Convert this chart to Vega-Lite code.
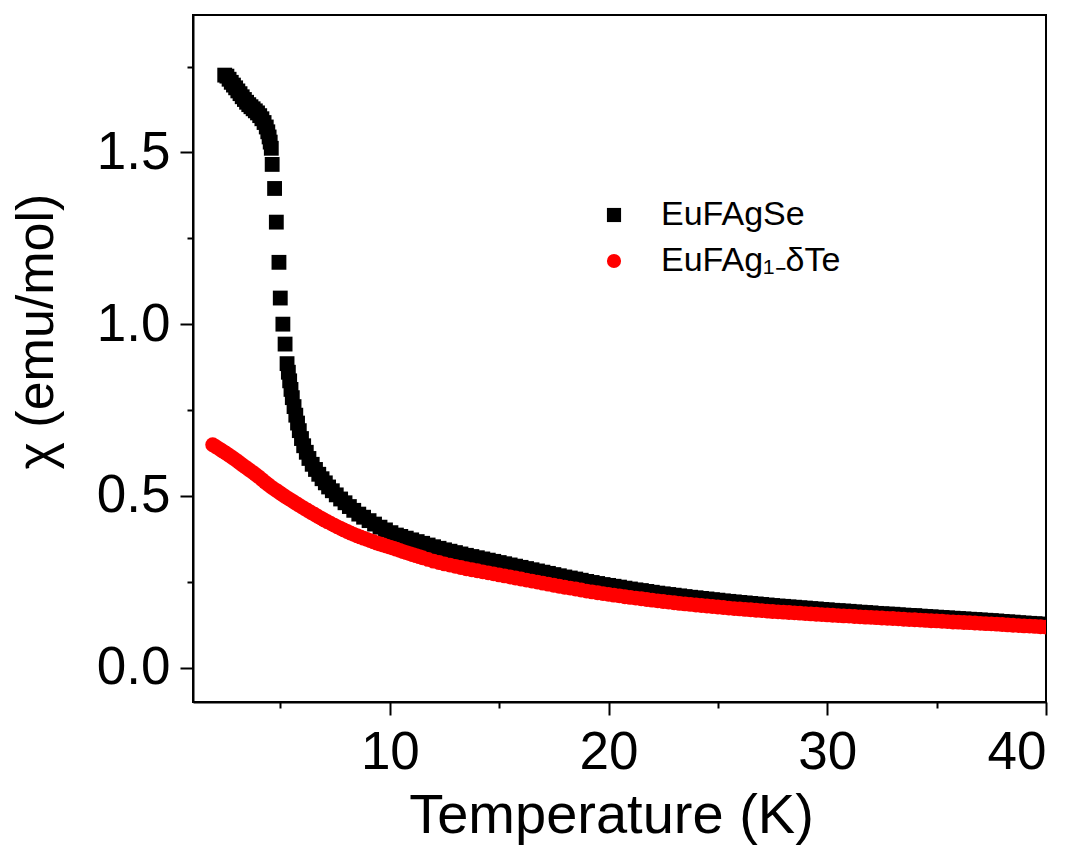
{
  "$schema": "https://vega.github.io/schema/vega-lite/v6.json",
  "width": 853,
  "height": 687,
  "autosize": {"type": "none"},
  "padding": {"left": 193, "top": 15, "right": 35, "bottom": 150},
  "background": "white",
  "config": {
    "view": {"stroke": "black", "strokeWidth": 2},
    "font": "Liberation Sans",
    "axis": {
      "domainColor": "black", "domainWidth": 2, "tickColor": "black", "tickWidth": 2,
      "grid": false, "labelColor": "black", "titleColor": "black",
      "labelFont": "Liberation Sans", "titleFont": "Liberation Sans",
      "labelFontSize": 53, "titleFontSize": 55, "titleFontWeight": "normal"
    }
  },
  "layer": [
    {
      "data": {"values": [
        {"s":"Se","T":2.45,"chi":1.725},{"s":"Se","T":2.55,"chi":1.722},{"s":"Se","T":2.65,"chi":1.713},{"s":"Se","T":2.75,"chi":1.704},
        {"s":"Se","T":2.85,"chi":1.696},{"s":"Se","T":2.95,"chi":1.688},{"s":"Se","T":3.05,"chi":1.679},{"s":"Se","T":3.15,"chi":1.671},
        {"s":"Se","T":3.25,"chi":1.662},{"s":"Se","T":3.35,"chi":1.654},{"s":"Se","T":3.45,"chi":1.646},{"s":"Se","T":3.55,"chi":1.639},
        {"s":"Se","T":3.65,"chi":1.633},{"s":"Se","T":3.75,"chi":1.627},{"s":"Se","T":3.85,"chi":1.621},{"s":"Se","T":3.95,"chi":1.615},
        {"s":"Se","T":4.05,"chi":1.607},{"s":"Se","T":4.15,"chi":1.598},{"s":"Se","T":4.25,"chi":1.587},{"s":"Se","T":4.35,"chi":1.574},
        {"s":"Se","T":4.42,"chi":1.560},{"s":"Se","T":4.48,"chi":1.545},{"s":"Se","T":4.53,"chi":1.530},{"s":"Se","T":4.58,"chi":1.512},
        {"s":"Se","T":4.62,"chi":1.465},{"s":"Se","T":4.73,"chi":1.395},{"s":"Se","T":4.81,"chi":1.297},{"s":"Se","T":4.93,"chi":1.180},
        {"s":"Se","T":4.99,"chi":1.076},{"s":"Se","T":5.11,"chi":1.000},{"s":"Se","T":5.21,"chi":0.942},
        {"s":"Se","T":5.30,"chi":0.885},{"s":"Se","T":5.36,"chi":0.860},{"s":"Se","T":5.42,"chi":0.835},{"s":"Se","T":5.48,"chi":0.810},
        {"s":"Se","T":5.54,"chi":0.786},{"s":"Se","T":5.62,"chi":0.760},{"s":"Se","T":5.70,"chi":0.735},{"s":"Se","T":5.78,"chi":0.712},
        {"s":"Se","T":5.86,"chi":0.690},{"s":"Se","T":5.96,"chi":0.667},{"s":"Se","T":6.06,"chi":0.646},{"s":"Se","T":6.18,"chi":0.627},
        {"s":"Se","T":6.30,"chi":0.609},{"s":"Se","T":6.45,"chi":0.592},{"s":"Se","T":6.60,"chi":0.577},{"s":"Se","T":6.75,"chi":0.563},
        {"s":"Se","T":6.90,"chi":0.550},{"s":"Se","T":7.05,"chi":0.538},{"s":"Se","T":7.20,"chi":0.526},{"s":"Se","T":7.37,"chi":0.515},
        {"s":"Se","T":7.55,"chi":0.503},{"s":"Se","T":7.75,"chi":0.491},{"s":"Se","T":7.95,"chi":0.480},{"s":"Se","T":8.15,"chi":0.469},
        {"s":"Se","T":8.35,"chi":0.458},{"s":"Se","T":8.58,"chi":0.447},{"s":"Se","T":8.80,"chi":0.438},{"s":"Se","T":9.05,"chi":0.428},
        {"s":"Se","T":9.30,"chi":0.418},{"s":"Se","T":9.55,"chi":0.409},{"s":"Se","T":9.80,"chi":0.401},{"s":"Se","T":10.05,"chi":0.393},
        {"s":"Se","T":10.30,"chi":0.386},
        {"s":"Se","T":10.5,"chi":0.382},{"s":"Se","T":10.75,"chi":0.377},{"s":"Se","T":11.0,"chi":0.372},{"s":"Se","T":11.25,"chi":0.367},
        {"s":"Se","T":11.5,"chi":0.362},{"s":"Se","T":11.75,"chi":0.357},{"s":"Se","T":12.0,"chi":0.352},{"s":"Se","T":12.25,"chi":0.3475},
        {"s":"Se","T":12.5,"chi":0.343},{"s":"Se","T":12.75,"chi":0.339},{"s":"Se","T":13.0,"chi":0.335},{"s":"Se","T":13.25,"chi":0.331},
        {"s":"Se","T":13.5,"chi":0.327},{"s":"Se","T":13.75,"chi":0.3235},{"s":"Se","T":14.0,"chi":0.320},{"s":"Se","T":14.25,"chi":0.3165},
        {"s":"Se","T":14.5,"chi":0.313},{"s":"Se","T":14.75,"chi":0.3095},{"s":"Se","T":15.0,"chi":0.306},{"s":"Se","T":15.25,"chi":0.3025},
        {"s":"Se","T":15.5,"chi":0.299},{"s":"Se","T":15.75,"chi":0.2955},{"s":"Se","T":16.0,"chi":0.292},{"s":"Se","T":16.25,"chi":0.2885},
        {"s":"Se","T":16.5,"chi":0.285},{"s":"Se","T":16.75,"chi":0.2815},{"s":"Se","T":17.0,"chi":0.278},{"s":"Se","T":17.25,"chi":0.2745},
        {"s":"Se","T":17.5,"chi":0.271},{"s":"Se","T":17.75,"chi":0.2675},{"s":"Se","T":18.0,"chi":0.264},{"s":"Se","T":18.25,"chi":0.261},
        {"s":"Se","T":18.5,"chi":0.258},{"s":"Se","T":18.75,"chi":0.2545},{"s":"Se","T":19.0,"chi":0.251},{"s":"Se","T":19.25,"chi":0.248},
        {"s":"Se","T":19.5,"chi":0.245},{"s":"Se","T":19.75,"chi":0.242},{"s":"Se","T":20.0,"chi":0.2395},{"s":"Se","T":20.25,"chi":0.237},
        {"s":"Se","T":20.5,"chi":0.2345},{"s":"Se","T":20.75,"chi":0.2315},{"s":"Se","T":21.0,"chi":0.229},{"s":"Se","T":21.25,"chi":0.2265},
        {"s":"Se","T":21.5,"chi":0.2245},{"s":"Se","T":21.75,"chi":0.222},{"s":"Se","T":22.0,"chi":0.2195},{"s":"Se","T":22.25,"chi":0.217},
        {"s":"Se","T":22.5,"chi":0.215},{"s":"Se","T":22.75,"chi":0.213},{"s":"Se","T":23.0,"chi":0.211},{"s":"Se","T":23.25,"chi":0.209},
        {"s":"Se","T":23.5,"chi":0.207},{"s":"Se","T":23.75,"chi":0.205},{"s":"Se","T":24.0,"chi":0.2035},{"s":"Se","T":24.25,"chi":0.2015},
        {"s":"Se","T":24.5,"chi":0.200},{"s":"Se","T":24.75,"chi":0.198},{"s":"Se","T":25.0,"chi":0.1965},{"s":"Se","T":25.25,"chi":0.1945},
        {"s":"Se","T":25.5,"chi":0.193},{"s":"Se","T":25.75,"chi":0.1915},{"s":"Se","T":26.0,"chi":0.190},{"s":"Se","T":26.25,"chi":0.1885},
        {"s":"Se","T":26.5,"chi":0.187},{"s":"Se","T":26.75,"chi":0.1855},{"s":"Se","T":27.0,"chi":0.184},{"s":"Se","T":27.25,"chi":0.1825},
        {"s":"Se","T":27.5,"chi":0.181},{"s":"Se","T":27.75,"chi":0.1795},{"s":"Se","T":28.0,"chi":0.1785},{"s":"Se","T":28.25,"chi":0.177},
        {"s":"Se","T":28.5,"chi":0.176},{"s":"Se","T":28.75,"chi":0.1745},{"s":"Se","T":29.0,"chi":0.1735},{"s":"Se","T":29.25,"chi":0.172},
        {"s":"Se","T":29.5,"chi":0.171},{"s":"Se","T":29.75,"chi":0.1695},{"s":"Se","T":30.0,"chi":0.1685},{"s":"Se","T":30.25,"chi":0.167},
        {"s":"Se","T":30.5,"chi":0.166},{"s":"Se","T":30.75,"chi":0.165},{"s":"Se","T":31.0,"chi":0.164},{"s":"Se","T":31.25,"chi":0.1625},
        {"s":"Se","T":31.5,"chi":0.1615},{"s":"Se","T":31.75,"chi":0.1605},{"s":"Se","T":32.0,"chi":0.1595},{"s":"Se","T":32.25,"chi":0.158},
        {"s":"Se","T":32.5,"chi":0.157},{"s":"Se","T":32.75,"chi":0.156},{"s":"Se","T":33.0,"chi":0.1555},{"s":"Se","T":33.25,"chi":0.154},
        {"s":"Se","T":33.5,"chi":0.153},{"s":"Se","T":33.75,"chi":0.152},{"s":"Se","T":34.0,"chi":0.1515},{"s":"Se","T":34.25,"chi":0.150},
        {"s":"Se","T":34.5,"chi":0.149},{"s":"Se","T":34.75,"chi":0.148},{"s":"Se","T":35.0,"chi":0.147},{"s":"Se","T":35.25,"chi":0.146},
        {"s":"Se","T":35.5,"chi":0.145},{"s":"Se","T":35.75,"chi":0.144},{"s":"Se","T":36.0,"chi":0.143},{"s":"Se","T":36.25,"chi":0.142},
        {"s":"Se","T":36.5,"chi":0.141},{"s":"Se","T":36.75,"chi":0.140},{"s":"Se","T":37.0,"chi":0.139},{"s":"Se","T":37.25,"chi":0.138},
        {"s":"Se","T":37.5,"chi":0.137},{"s":"Se","T":37.75,"chi":0.136},{"s":"Se","T":38.0,"chi":0.1345},{"s":"Se","T":38.25,"chi":0.1335},
        {"s":"Se","T":38.5,"chi":0.1325},{"s":"Se","T":38.75,"chi":0.131},{"s":"Se","T":39.0,"chi":0.130},{"s":"Se","T":39.25,"chi":0.129},
        {"s":"Se","T":39.5,"chi":0.128},{"s":"Se","T":39.75,"chi":0.127},{"s":"Se","T":40.0,"chi":0.126},{"s":"Se","T":40.25,"chi":0.125},
        {"s":"Se","T":40.5,"chi":0.124},
        {"s":"Te","T":1.9,"chi":0.649},{"s":"Te","T":2.05,"chi":0.643},{"s":"Te","T":2.2,"chi":0.637},{"s":"Te","T":2.35,"chi":0.631},
        {"s":"Te","T":2.5,"chi":0.625},{"s":"Te","T":2.65,"chi":0.6185},{"s":"Te","T":2.8,"chi":0.612},{"s":"Te","T":2.95,"chi":0.605},
        {"s":"Te","T":3.1,"chi":0.598},{"s":"Te","T":3.25,"chi":0.591},{"s":"Te","T":3.4,"chi":0.584},{"s":"Te","T":3.55,"chi":0.577},
        {"s":"Te","T":3.7,"chi":0.570},{"s":"Te","T":3.85,"chi":0.563},{"s":"Te","T":4.0,"chi":0.556},{"s":"Te","T":4.15,"chi":0.548},
        {"s":"Te","T":4.3,"chi":0.540},{"s":"Te","T":4.45,"chi":0.5325},{"s":"Te","T":4.6,"chi":0.525},{"s":"Te","T":4.75,"chi":0.5185},
        {"s":"Te","T":4.9,"chi":0.512},{"s":"Te","T":5.05,"chi":0.5055},{"s":"Te","T":5.2,"chi":0.499},{"s":"Te","T":5.35,"chi":0.493},
        {"s":"Te","T":5.5,"chi":0.487},{"s":"Te","T":5.65,"chi":0.481},{"s":"Te","T":5.8,"chi":0.475},{"s":"Te","T":5.95,"chi":0.469},
        {"s":"Te","T":6.1,"chi":0.463},{"s":"Te","T":6.25,"chi":0.4575},{"s":"Te","T":6.4,"chi":0.452},{"s":"Te","T":6.55,"chi":0.4465},
        {"s":"Te","T":6.7,"chi":0.441},{"s":"Te","T":6.85,"chi":0.4355},{"s":"Te","T":7.0,"chi":0.430},{"s":"Te","T":7.15,"chi":0.425},
        {"s":"Te","T":7.3,"chi":0.420},{"s":"Te","T":7.45,"chi":0.415},{"s":"Te","T":7.6,"chi":0.410},{"s":"Te","T":7.75,"chi":0.4055},
        {"s":"Te","T":7.9,"chi":0.401},{"s":"Te","T":8.05,"chi":0.3965},{"s":"Te","T":8.2,"chi":0.392},{"s":"Te","T":8.35,"chi":0.388},
        {"s":"Te","T":8.5,"chi":0.384},{"s":"Te","T":8.65,"chi":0.3805},{"s":"Te","T":8.8,"chi":0.377},{"s":"Te","T":8.95,"chi":0.3735},
        {"s":"Te","T":9.1,"chi":0.370},{"s":"Te","T":9.25,"chi":0.3665},{"s":"Te","T":9.4,"chi":0.363},{"s":"Te","T":9.55,"chi":0.360},
        {"s":"Te","T":9.7,"chi":0.357},{"s":"Te","T":9.85,"chi":0.354},{"s":"Te","T":10.0,"chi":0.351},{"s":"Te","T":10.15,"chi":0.348},
        {"s":"Te","T":10.3,"chi":0.345},{"s":"Te","T":10.45,"chi":0.3415},{"s":"Te","T":10.6,"chi":0.338},{"s":"Te","T":10.75,"chi":0.335},
        {"s":"Te","T":10.9,"chi":0.332},{"s":"Te","T":11.05,"chi":0.329},{"s":"Te","T":11.2,"chi":0.326},{"s":"Te","T":11.35,"chi":0.323},
        {"s":"Te","T":11.5,"chi":0.320},{"s":"Te","T":11.75,"chi":0.315},
        {"s":"Te","T":12.0,"chi":0.310},{"s":"Te","T":12.25,"chi":0.306},{"s":"Te","T":12.5,"chi":0.302},{"s":"Te","T":12.75,"chi":0.2985},
        {"s":"Te","T":13.0,"chi":0.295},{"s":"Te","T":13.25,"chi":0.2915},{"s":"Te","T":13.5,"chi":0.288},{"s":"Te","T":13.75,"chi":0.285},
        {"s":"Te","T":14.0,"chi":0.282},{"s":"Te","T":14.25,"chi":0.279},{"s":"Te","T":14.5,"chi":0.276},{"s":"Te","T":14.75,"chi":0.273},
        {"s":"Te","T":15.0,"chi":0.270},{"s":"Te","T":15.25,"chi":0.267},{"s":"Te","T":15.5,"chi":0.264},{"s":"Te","T":15.75,"chi":0.261},
        {"s":"Te","T":16.0,"chi":0.258},{"s":"Te","T":16.25,"chi":0.255},{"s":"Te","T":16.5,"chi":0.252},{"s":"Te","T":16.75,"chi":0.249},
        {"s":"Te","T":17.0,"chi":0.246},{"s":"Te","T":17.25,"chi":0.243},{"s":"Te","T":17.5,"chi":0.240},{"s":"Te","T":17.75,"chi":0.237},
        {"s":"Te","T":18.0,"chi":0.234},{"s":"Te","T":18.25,"chi":0.2315},{"s":"Te","T":18.5,"chi":0.229},{"s":"Te","T":18.75,"chi":0.226},
        {"s":"Te","T":19.0,"chi":0.223},{"s":"Te","T":19.25,"chi":0.2205},{"s":"Te","T":19.5,"chi":0.218},{"s":"Te","T":19.75,"chi":0.2155},
        {"s":"Te","T":20.0,"chi":0.2135},{"s":"Te","T":20.25,"chi":0.211},{"s":"Te","T":20.5,"chi":0.209},{"s":"Te","T":20.75,"chi":0.2065},
        {"s":"Te","T":21.0,"chi":0.2045},{"s":"Te","T":21.25,"chi":0.2025},{"s":"Te","T":21.5,"chi":0.2005},{"s":"Te","T":21.75,"chi":0.1985},
        {"s":"Te","T":22.0,"chi":0.1965},{"s":"Te","T":22.25,"chi":0.1945},{"s":"Te","T":22.5,"chi":0.1925},{"s":"Te","T":22.75,"chi":0.191},
        {"s":"Te","T":23.0,"chi":0.189},{"s":"Te","T":23.25,"chi":0.187},{"s":"Te","T":23.5,"chi":0.1855},{"s":"Te","T":23.75,"chi":0.184},
        {"s":"Te","T":24.0,"chi":0.1825},{"s":"Te","T":24.25,"chi":0.181},{"s":"Te","T":24.5,"chi":0.1795},{"s":"Te","T":24.75,"chi":0.178},
        {"s":"Te","T":25.0,"chi":0.1765},{"s":"Te","T":25.25,"chi":0.175},{"s":"Te","T":25.5,"chi":0.1735},{"s":"Te","T":25.75,"chi":0.172},
        {"s":"Te","T":26.0,"chi":0.171},{"s":"Te","T":26.25,"chi":0.1695},{"s":"Te","T":26.5,"chi":0.1685},{"s":"Te","T":26.75,"chi":0.167},
        {"s":"Te","T":27.0,"chi":0.166},{"s":"Te","T":27.25,"chi":0.1645},{"s":"Te","T":27.5,"chi":0.1635},{"s":"Te","T":27.75,"chi":0.1625},
        {"s":"Te","T":28.0,"chi":0.1615},{"s":"Te","T":28.25,"chi":0.1605},{"s":"Te","T":28.5,"chi":0.1595},{"s":"Te","T":28.75,"chi":0.1585},
        {"s":"Te","T":29.0,"chi":0.1575},{"s":"Te","T":29.25,"chi":0.1565},{"s":"Te","T":29.5,"chi":0.1555},{"s":"Te","T":29.75,"chi":0.1545},
        {"s":"Te","T":30.0,"chi":0.1535},{"s":"Te","T":30.25,"chi":0.1525},{"s":"Te","T":30.5,"chi":0.1515},{"s":"Te","T":30.75,"chi":0.1505},
        {"s":"Te","T":31.0,"chi":0.150},{"s":"Te","T":31.25,"chi":0.149},{"s":"Te","T":31.5,"chi":0.148},{"s":"Te","T":31.75,"chi":0.147},
        {"s":"Te","T":32.0,"chi":0.1465},{"s":"Te","T":32.25,"chi":0.1455},{"s":"Te","T":32.5,"chi":0.1445},{"s":"Te","T":32.75,"chi":0.1435},
        {"s":"Te","T":33.0,"chi":0.143},{"s":"Te","T":33.25,"chi":0.142},{"s":"Te","T":33.5,"chi":0.141},{"s":"Te","T":33.75,"chi":0.140},
        {"s":"Te","T":34.0,"chi":0.1395},{"s":"Te","T":34.25,"chi":0.1385},{"s":"Te","T":34.5,"chi":0.1375},{"s":"Te","T":34.75,"chi":0.1365},
        {"s":"Te","T":35.0,"chi":0.136},{"s":"Te","T":35.25,"chi":0.135},{"s":"Te","T":35.5,"chi":0.134},{"s":"Te","T":35.75,"chi":0.133},
        {"s":"Te","T":36.0,"chi":0.1325},{"s":"Te","T":36.25,"chi":0.1315},{"s":"Te","T":36.5,"chi":0.131},{"s":"Te","T":36.75,"chi":0.130},
        {"s":"Te","T":37.0,"chi":0.129},{"s":"Te","T":37.25,"chi":0.128},{"s":"Te","T":37.5,"chi":0.1275},{"s":"Te","T":37.75,"chi":0.1265},
        {"s":"Te","T":38.0,"chi":0.1255},{"s":"Te","T":38.25,"chi":0.1245},{"s":"Te","T":38.5,"chi":0.1235},{"s":"Te","T":38.75,"chi":0.1225},
        {"s":"Te","T":39.0,"chi":0.1215},{"s":"Te","T":39.25,"chi":0.121},{"s":"Te","T":39.5,"chi":0.120},{"s":"Te","T":39.75,"chi":0.119},
        {"s":"Te","T":40.0,"chi":0.118},{"s":"Te","T":40.25,"chi":0.117},{"s":"Te","T":40.5,"chi":0.1165}
      ]},
      "mark": {"type": "point", "filled": true, "size": 220, "opacity": 1, "clip": true, "strokeWidth": 0},
      "encoding": {
        "x": {"field": "T", "type": "quantitative",
          "scale": {"domain": [1, 40], "nice": false, "zero": false},
          "axis": {"orient": "bottom", "values": [10, 20, 30, 40], "tickSize": 13, "labelPadding": 11,
            "title": "Temperature (K)", "titleFontSize": 56, "titleBaseline": "alphabetic", "titleX": 418, "titleY": 130}},
        "y": {"field": "chi", "type": "quantitative",
          "scale": {"domain": [-0.1, 1.9], "nice": false, "zero": false},
          "axis": {"orient": "left", "values": [0, 0.5, 1, 1.5], "format": ".1f", "tickSize": 13, "labelPadding": 10,
            "title": "χ (emu/mol)", "titleFontSize": 52, "titleAngle": -90, "titleBaseline": "alphabetic", "titleAlign": "center", "titleX": -141, "titleY": 316}},
        "color": {"field": "s", "type": "nominal",
          "scale": {"domain": ["Se", "Te"], "range": ["#000000", "#ff0000"]},
          "legend": {"orient": "none", "legendX": 404, "legendY": 183, "title": null, "padding": 0,
            "labelExpr": "datum.label == 'Se' ? 'EuFAgSe' : 'EuFAg₁₋δTe'",
            "labelFontSize": 34, "labelFont": "Liberation Sans", "labelColor": "black", "labelLimit": 500,
            "labelOffset": 30, "rowPadding": 12, "symbolSize": 200, "symbolStrokeWidth": 0}},
        "shape": {"field": "s", "type": "nominal",
          "scale": {"domain": ["Se", "Te"], "range": ["square", "circle"]}}
      }
    },
    {
      "data": {"values": [{"T": 20, "chi": 0.5}]},
      "mark": {"type": "point", "opacity": 0},
      "encoding": {
        "x": {"field": "T", "type": "quantitative",
          "axis": {"orient": "bottom", "values": [5, 15, 25, 35], "tickSize": 6, "labels": false, "domain": false, "title": null}},
        "y": {"field": "chi", "type": "quantitative",
          "axis": {"orient": "left", "values": [0.25, 0.75, 1.25, 1.75], "tickSize": 6, "labels": false, "domain": false, "title": null}}
      }
    }
  ],
  "resolve": {"axis": {"x": "independent", "y": "independent"}}
}
